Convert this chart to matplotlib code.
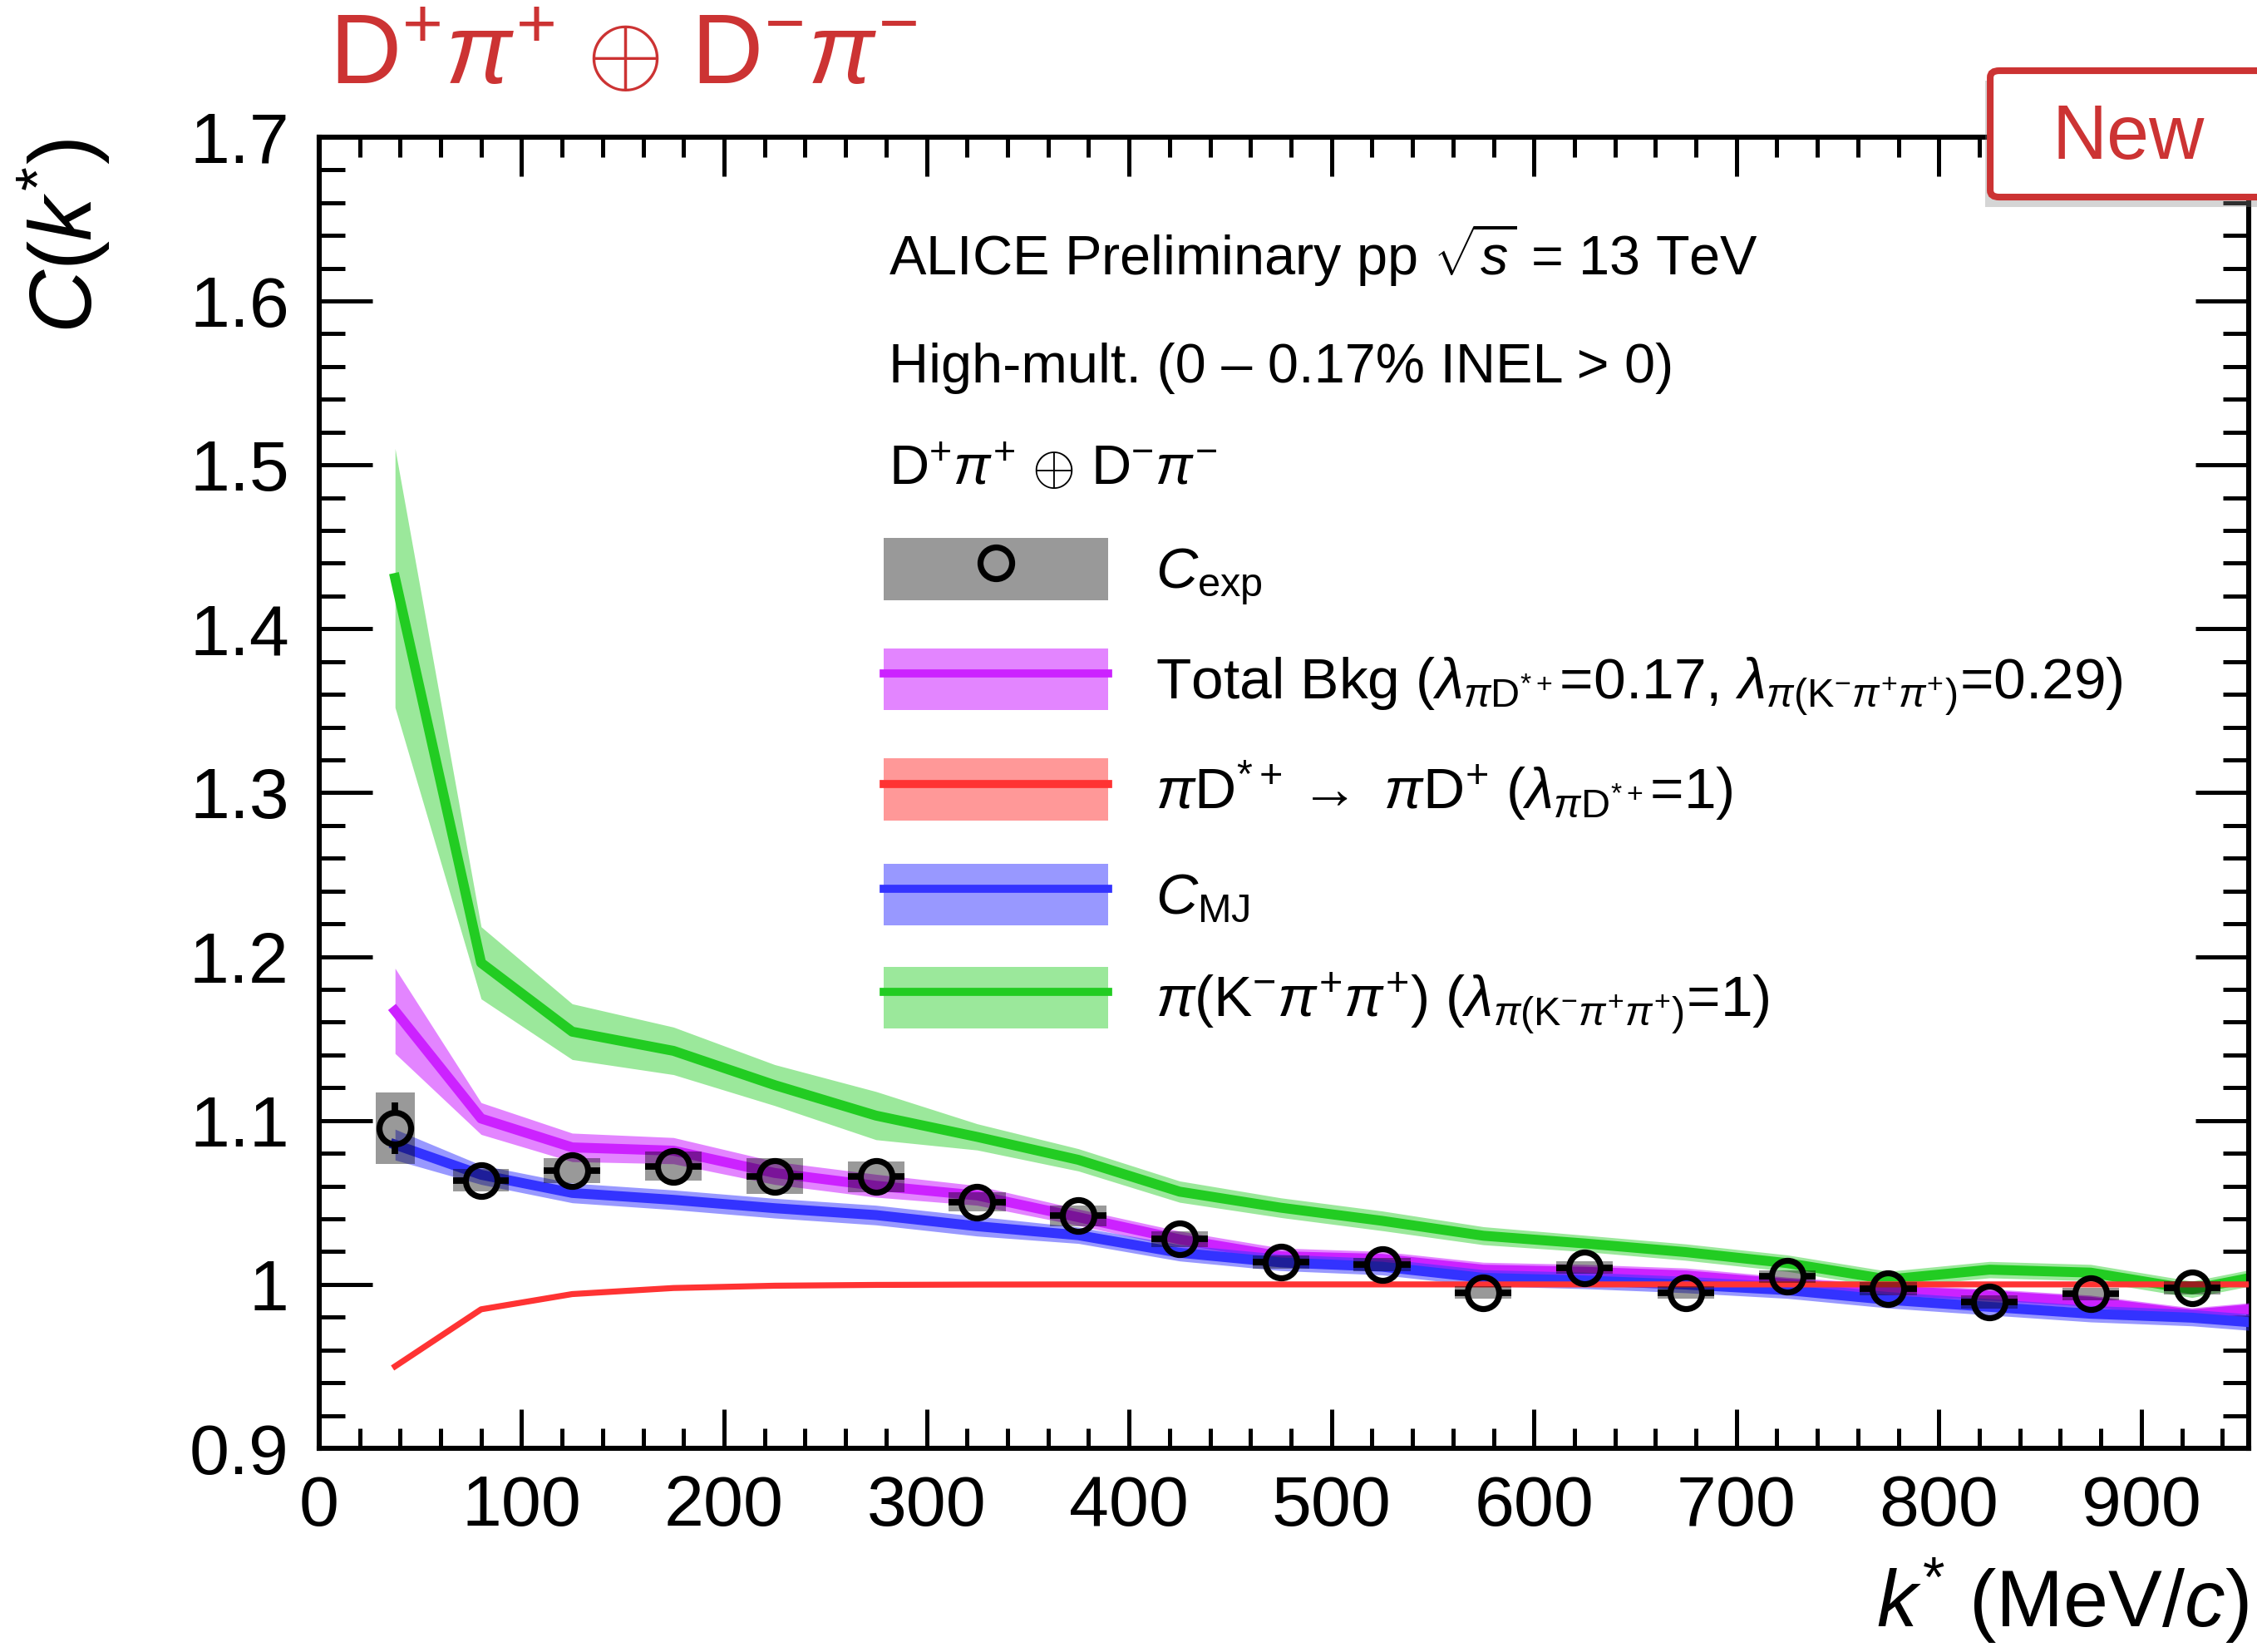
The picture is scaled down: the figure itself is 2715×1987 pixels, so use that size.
import numpy as np
import matplotlib.pyplot as plt
from matplotlib.patches import Patch, Rectangle, FancyBboxPatch
from matplotlib.lines import Line2D
from matplotlib.ticker import MultipleLocator, FuncFormatter

plt.rcParams['font.family'] = ['Liberation Sans', 'DejaVu Sans']
plt.rcParams['mathtext.fontset'] = 'custom'
plt.rcParams['mathtext.rm'] = 'Liberation Sans'
plt.rcParams['mathtext.it'] = 'Liberation Sans:italic'
plt.rcParams['mathtext.bf'] = 'Liberation Sans:bold'

# measured correlation function
k_exp = [37.5, 80, 125, 175, 225, 275, 325, 375, 425, 475, 525, 575, 625, 675, 725, 775, 825, 875, 925]
c_exp = [1.0953, 1.0635, 1.0694, 1.0722, 1.0660, 1.0657, 1.0504, 1.0418, 1.0276, 1.0137,
         1.0122, 0.9951, 1.0103, 0.9951, 1.0048, 0.9975, 0.9894, 0.9941, 0.9979]
k_err = [7.5, 13.8, 14, 14, 14, 14, 14, 14, 14, 14, 14, 14, 14, 14, 14, 14, 14, 14, 14]
stat_err = [0.0155, 0.004, 0.004, 0.004, 0.004, 0.004, 0.004, 0.004, 0.004, 0.004,
            0.004, 0.004, 0.004, 0.004, 0.004, 0.004, 0.004, 0.004, 0.004]
syst_dk = [9.6, 13.8, 14, 14, 14, 14, 14, 14, 14, 14, 14, 14, 14, 14, 14, 14, 14, 14, 14]
syst_err = [0.022, 0.0068, 0.0076, 0.009, 0.011, 0.0094, 0.006, 0.0063, 0.005, 0.004,
            0.004, 0.004, 0.004, 0.004, 0.004, 0.004, 0.004, 0.004, 0.004]

# model curves
k_model = [37.5, 80, 125, 175, 225, 275, 325, 375, 425, 475, 525, 575, 625, 675, 725, 775, 825, 875, 925, 953]
c_green = [1.431, 1.1962, 1.1542, 1.1425, 1.1216, 1.103, 1.090, 1.0760, 1.0566, 1.0468,
           1.0388, 1.0297, 1.0250, 1.0197, 1.0130, 1.0030, 1.0090, 1.0072, 0.9970, 1.0038]
e_green = [0.079, 0.022, 0.017, 0.0145, 0.0125, 0.0147, 0.008, 0.0068, 0.0065, 0.006,
           0.006, 0.0055, 0.005, 0.005, 0.005, 0.005, 0.005, 0.005, 0.005, 0.005]
c_bkg = [1.1669, 1.1012, 1.0836, 1.0816, 1.068, 1.0602, 1.0543, 1.041, 1.0275, 1.0172,
         1.0156, 1.009, 1.0077, 1.0055, 1.0004, 0.9962, 0.9932, 0.9894, 0.9817, 0.9848]
e_bkg = [0.026, 0.0097, 0.0087, 0.008, 0.007, 0.007, 0.006, 0.005, 0.005, 0.005,
         0.0045, 0.0045, 0.0045, 0.0045, 0.004, 0.004, 0.004, 0.004, 0.004, 0.004]
c_mj = [1.0853, 1.0669, 1.0558, 1.0516, 1.0465, 1.0423, 1.0355, 1.030, 1.0193, 1.0134,
        1.0108, 1.004, 1.0024, 0.9999, 0.9965, 0.9906, 0.9863, 0.9821, 0.9797, 0.977]
e_mj = [0.0094, 0.0059, 0.006, 0.006, 0.006, 0.006, 0.006, 0.005, 0.005, 0.005,
        0.005, 0.005, 0.005, 0.005, 0.005, 0.005, 0.005, 0.005, 0.005, 0.005]
c_red = [0.950, 0.9848, 0.9941, 0.9978, 0.9992, 0.9997, 0.9999, 1.0, 1.0, 1.0,
         1.0, 1.0, 1.0, 1.0, 1.0, 1.0, 1.0, 1.0, 1.0, 1.0]
e_red = [0.001] * 20

GREEN = '#22cc22'
MAG = '#cc22ff'
BLUE = '#3333ff'
RED = '#ff3333'
ALICE_RED = '#cc3333'

DPI = 200
fig = plt.figure(figsize=(13.575, 9.935), dpi=DPI)
ax = fig.add_axes([0.1414, 0.1233, 0.8549, 0.7937])
ax.set_xlim(0, 953)
ax.set_ylim(0.9, 1.7)


def band(y, err, color, alpha, lw, z):
    y = np.array(y)
    err = np.array(err)
    ax.fill_between(k_model, y - err, y + err, color=color, alpha=alpha, lw=0, zorder=z)
    ax.plot(k_model, y, color=color, lw=lw, zorder=z + 0.5)


band(c_green, e_green, GREEN, 0.45, 4.3, 2)
band(c_bkg, e_bkg, MAG, 0.55, 4.3, 3)
band(c_mj, e_mj, BLUE, 0.5, 4.3, 4)
band(c_red, e_red, RED, 0.5, 2.6, 5)

# systematic boxes
for kk, cc, dk, dc in zip(k_exp, c_exp, syst_dk, syst_err):
    ax.add_patch(Rectangle((kk - dk, cc - dc), 2 * dk, 2 * dc, fc='black', alpha=0.4, lw=0, zorder=6))

# error bars drawn outside the open marker, like ROOT
MS = 13.7
r_px = MS / 2 * DPI / 72
p0 = ax.transData.transform((0, 1.0))
p1 = ax.transData.transform((100, 1.1))
rk = r_px / ((p1[0] - p0[0]) / 100)
rc = r_px / ((p1[1] - p0[1]) / 0.1)
for kk, cc, dk, dc in zip(k_exp, c_exp, k_err, stat_err):
    if dk > rk:
        ax.plot([kk - dk, kk - rk], [cc, cc], color='black', lw=2.8, solid_capstyle='butt', zorder=7)
        ax.plot([kk + rk, kk + dk], [cc, cc], color='black', lw=2.8, solid_capstyle='butt', zorder=7)
    if dc > rc:
        ax.plot([kk, kk], [cc - dc, cc - rc], color='black', lw=2.8, solid_capstyle='butt', zorder=7)
        ax.plot([kk, kk], [cc + rc, cc + dc], color='black', lw=2.8, solid_capstyle='butt', zorder=7)
ax.plot(k_exp, c_exp, 'o', ms=MS, mfc='none', mec='black', mew=2.6, zorder=8)

# axes style
for s in ax.spines.values():
    s.set_linewidth(2.2)
ax.xaxis.set_major_locator(MultipleLocator(100))
ax.xaxis.set_minor_locator(MultipleLocator(20))
ax.yaxis.set_major_locator(MultipleLocator(0.1))
ax.yaxis.set_minor_locator(MultipleLocator(0.02))
ax.yaxis.set_major_formatter(FuncFormatter(lambda v, p: '%g' % round(v, 2)))
ax.tick_params(axis='both', which='both', direction='in', top=True, right=True, labelsize=31)
ax.tick_params(axis='x', which='major', length=17, width=1.8, pad=11)
ax.tick_params(axis='x', which='minor', length=8.5, width=1.8)
ax.tick_params(axis='y', which='major', length=23, width=1.8, pad=13)
ax.tick_params(axis='y', which='minor', length=11, width=1.8)

# labels
fig.text(0.0284, 0.916, r'$C(k^{*})$', rotation=90, ha='center', va='top', fontsize=38)
fig.text(0.9963, 0.031, r'$k^{*}$ (MeV/$c$)', ha='right', va='center', fontsize=35)

# info text
ax.text(0.2951, 0.8954, r'ALICE Preliminary pp $\sqrt{s}$ = 13 TeV', transform=ax.transAxes,
        fontsize=24, va='baseline')
ax.text(0.2951, 0.8129, 'High-mult. (0 \u2013 0.17% INEL > 0)', transform=ax.transAxes,
        fontsize=24, va='baseline')
ax.text(0.2951, 0.7349, r'D$^{+}\pi^{+}$ $\oplus$ D$^{-}\pi^{-}$', transform=ax.transAxes,
        fontsize=24, va='baseline')

# legend
handles = [
    (Patch(fc='#999999', ec='none'),
     Line2D([], [], ls='none', marker='o', ms=MS, mfc='none', mec='black', mew=2.6)),
    (Patch(fc=MAG, alpha=0.55, ec='none'), Line2D([], [], color=MAG, lw=3.5)),
    (Patch(fc=RED, alpha=0.5, ec='none'), Line2D([], [], color=RED, lw=3.5)),
    (Patch(fc=BLUE, alpha=0.5, ec='none'), Line2D([], [], color=BLUE, lw=3.5)),
    (Patch(fc=GREEN, alpha=0.45, ec='none'), Line2D([], [], color=GREEN, lw=3.5)),
]
labels = [
    r'$C_{\mathrm{exp}}$',
    r'Total Bkg ($\lambda_{\pi\mathrm{D}^{*+}}$=0.17, $\lambda_{\pi(\mathrm{K}^{-}\pi^{+}\pi^{+})}$=0.29)',
    r'$\pi$D$^{*+}$$\rightarrow$ $\pi$D$^{+}$ ($\lambda_{\pi\mathrm{D}^{*+}}$=1)',
    r'$C_{\mathrm{MJ}}$',
    r'$\pi$(K$^{-}\pi^{+}\pi^{+}$) ($\lambda_{\pi(\mathrm{K}^{-}\pi^{+}\pi^{+})}$=1)',
]
ax.legend(handles, labels, loc='upper left', bbox_to_anchor=(0.2924, 0.6944), frameon=False,
          fontsize=25, handlelength=3.89, handleheight=1.28, handletextpad=0.82,
          labelspacing=0.71, borderpad=0, borderaxespad=0, numpoints=1)

# red header and "New" badge
fig.text(0.1459, 0.9648, r'D$^{+}\pi^{+}$ $\oplus$ D$^{-}\pi^{-}$', ha='left', va='center',
         fontsize=43, color=ALICE_RED)
fig.patches.append(Rectangle((0.8796, 0.8745), 0.15, 0.0765, transform=fig.transFigure,
                             fc='#888888', alpha=0.35, lw=0, zorder=1))
fig.patches.append(FancyBboxPatch((0.8818, 0.8807), 0.15, 0.0765, transform=fig.transFigure,
                                  boxstyle='round,pad=0,rounding_size=0.004', fc='white',
                                  ec=ALICE_RED, lw=2.9, zorder=2))
fig.text(0.943, 0.916, 'New', ha='center', va='center', fontsize=33, color=ALICE_RED, zorder=3)

fig.savefig('out.png', dpi=DPI)
